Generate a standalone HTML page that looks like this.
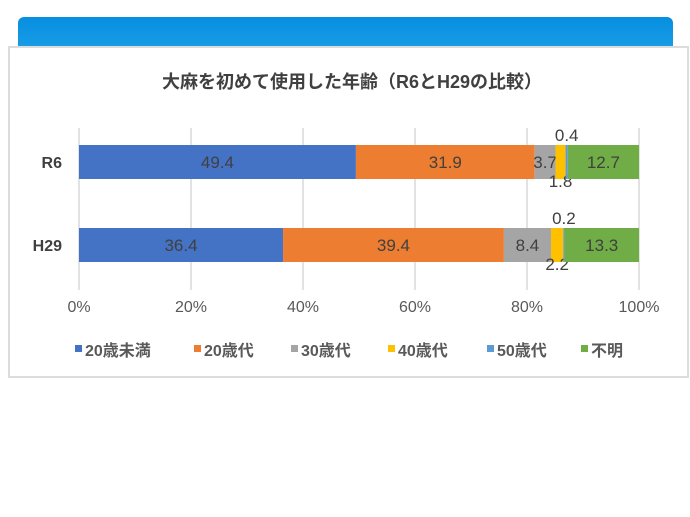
<!DOCTYPE html>
<html><head><meta charset="utf-8"><style>
body{margin:0;width:690px;height:517px;background:#fff;overflow:hidden;font-family:"Liberation Sans","Noto Sans CJK JP",sans-serif;}
#hdr{position:absolute;left:18px;top:17px;width:655px;height:34px;border-radius:6px 6px 0 0;background:linear-gradient(#068ee0,#1a9ee6);}
#panel{position:absolute;left:8px;top:46px;width:681px;height:332px;background:#fff;border:2px solid #dcdcdc;box-sizing:border-box;}
svg{position:absolute;left:0;top:0;}
</style></head><body>
<div id="hdr"></div>
<div id="panel"></div>
<svg id="chart" width="690" height="517"></svg>
<script>
const categories=["R6","H29"];
const seriesNames=["20歳未満","20歳代","30歳代","40歳代","50歳代","不明"];
const r6Values=[49.4,31.9,3.7,1.8,0.4,12.7];
const h29Values=[36.4,39.4,8.4,2.2,0.2,13.3];
const tickLabels=["0%","20%","40%","60%","80%","100%"];
const tickValues=[0,20,40,60,80,100];
const colors=["#4472c4","#ed7d31","#a5a5a5","#ffc000","#5b9bd5","#70ad47"];
const values=[r6Values,h29Values];
const NS="http://www.w3.org/2000/svg";
const svg=document.getElementById('chart');
const X0=79,X1=639;
const xs=v=>X0+(X1-X0)*v/100;
const rowY=[145,228],barH=34;
function mk(t,a,txt){const e=document.createElementNS(NS,t);for(const k in a)e.setAttribute(k,a[k]);if(txt!=null)e.textContent=txt;svg.appendChild(e);return e;}
let e=mk('text',{x:352,y:88,'text-anchor':'middle','font-size':18,'font-weight':'bold',fill:'#404040'},'大麻を初めて使用した年齢（R6とH29の比較）');

tickValues.forEach((t,i)=>{
 let g=mk('line',{x1:xs(t),x2:xs(t),y1:128,y2:290,stroke:'#d9d9d9','stroke-width':1.5});
 
 let l=mk('text',{x:xs(t),y:312,'text-anchor':'middle','font-size':16,fill:'#595959'},tickLabels[i]);
 
});
categories.forEach((c,r)=>{
 const vals=values[r];const tot=vals.reduce((a,b)=>a+b,0);
 let cl=mk('text',{x:62,y:rowY[r]+barH/2+6,'text-anchor':'end','font-size':16,'font-weight':'bold',fill:'#404040'},c);
 
 let acc=0;
 vals.forEach((v,i)=>{
  const a=acc/tot*100,b=(acc+v)/tot*100;acc+=v;
  let rc=mk('rect',{x:xs(a),y:rowY[r],width:xs(b)-xs(a),height:barH,fill:colors[i]});
  
  const mid=(xs(a)+xs(b))/2;let ty=rowY[r]+barH/2+6;
  if(i===3)ty=rowY[r]+barH+8;
  if(i===4)ty=rowY[r]-4;
  let lt=mk('text',{x:mid,y:ty,'text-anchor':'middle','font-size':17,fill:'#404040'},v.toFixed(1));
  
 });
});
const lx=[75,194,291,388,487,581];
seriesNames.forEach((n,i)=>{
 let m=mk('rect',{x:lx[i],y:345,width:7,height:7,fill:colors[i]});
 
 let t=mk('text',{x:lx[i]+10,y:356,'font-size':16,'font-weight':'bold',fill:'#595959'},n);
 
});
</script>
</body></html>
